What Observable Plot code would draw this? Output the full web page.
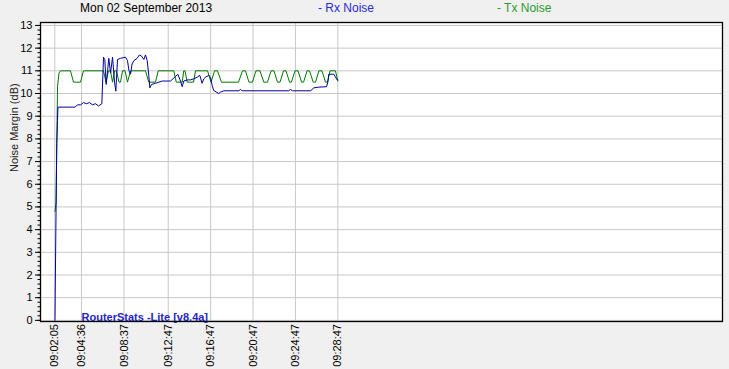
<!DOCTYPE html>
<html><head><meta charset="utf-8">
<script src="https://cdn.jsdelivr.net/npm/d3@7"></script>
<script src="https://cdn.jsdelivr.net/npm/@observablehq/plot@0.6"></script>
<style>
html,body{margin:0;padding:0;background:#f0f0f0;}
#wrap{position:relative;width:729px;height:369px;overflow:hidden;font-family:Arial,"Liberation Sans",sans-serif;}
#wrap svg{position:absolute;left:0;top:0;}
.hdr{position:absolute;top:1px;font-size:12px;line-height:14px;white-space:nowrap;}
</style></head><body>
<div id="wrap"></div>
<script>
const chartTitle = "Mon 02 September 2013";
const seriesNames = ["- Rx Noise", "- Tx Noise"];
const yLabel = "Noise Margin (dB)";
const watermark = "RouterStats -Lite [v8.4a]";
const xTickLabels = ["09:02:05","09:04:36","09:08:37","09:12:47","09:16:47","09:20:47","09:24:47","09:28:47"];
const yTicks = [0,1,2,3,4,5,6,7,8,9,10,11,12,13];

// time in minutes after 09:00:00
const rxTime = [2.10,2.13,2.20,2.27,2.34,2.38,4.01,4.22,4.51,4.79,5.07,5.36,5.64,5.92,6.21,6.52,6.68,6.80,6.93,7.06,7.18,7.34,7.53,7.72,7.84,8.00,8.28,8.75,8.94,9.08,9.23,9.37,9.55,9.84,10.07,10.26,10.48,10.64,10.80,10.95,11.05,11.21,11.58,12.22,12.53,13.00,13.47,13.69,13.94,14.10,14.25,14.57,14.88,15.20,15.52,15.76,15.98,16.14,16.30,16.61,16.77,16.93,17.08,17.55,17.71,18.03,19.44,19.60,19.76,24.13,24.32,24.51,26.21,26.52,26.99,27.72,27.84,27.93,28.40,28.72,28.78];
const rxNoise = [0,1.6,4.8,7.8,8.8,9.4,9.4,9.5,9.5,9.6,9.55,9.6,9.5,9.55,9.45,9.55,11.6,11.5,10.4,11.0,11.55,10.9,11.6,10.5,10.1,11.5,11.55,11.6,11.45,11.0,10.85,11.3,11.45,11.55,11.7,11.65,11.5,11.7,11.45,10.8,10.25,10.4,10.45,10.55,10.55,10.55,10.75,10.85,10.55,10.3,10.55,10.6,10.6,10.65,10.72,10.8,10.45,10.65,10.72,10.8,10.7,10.35,10.13,10.0,10.06,10.12,10.12,10.18,10.12,10.12,10.18,10.12,10.12,10.25,10.28,10.3,10.5,10.85,10.85,10.6,10.6];

const txTime = [2.10,2.20,2.34,2.48,2.62,3.56,3.85,4.51,4.79,6.68,6.91,7.15,7.34,7.53,7.72,7.90,8.14,8.28,8.47,8.71,8.94,9.23,10.64,10.95,11.58,11.84,13.31,13.54,14.10,14.25,14.37,14.57,15.17,15.36,16.49,16.82,17.15,17.43,17.81,19.41,19.79,20.07,20.40,20.73,21.06,21.44,21.80,22.15,22.48,22.76,23.09,23.33,23.66,23.89,24.23,24.41,24.74,25.03,25.36,25.55,25.88,26.11,26.46,26.68,26.99,27.29,27.62,27.81,28.05,28.56,28.78];
const txNoise = [4.8,5.2,10.3,10.9,11,11,10.5,10.5,11,11,10.5,11,11,10.5,11,11,10.5,10.5,11,11,10.5,11,11,10.5,10.5,11,11,10.5,10.5,11,11,10.5,10.5,11,11,10.5,11,11,10.5,10.5,11,11,10.5,10.5,11,11,10.5,10.5,11,11,10.5,10.5,11,11,10.5,10.5,11,11,10.5,10.5,11,11,10.5,10.5,11,11,10.5,10.5,11,11,10.55];

const toMin = s => { const [h,m,sec] = s.split(":").map(Number); return (h-9)*60 + m + sec/60; };
const xTicks = xTickLabels.map(toMin);
const minorTicks = d3.range(0, 13.01, 0.2);

const rx = rxTime.map((t,i) => ({t, v: rxNoise[i]}));
const tx = txTime.map((t,i) => ({t, v: txNoise[i]}));

const rxColor = "#0000a0", txColor = "#007800";

const chart = Plot.plot({
  width: 729, height: 369,
  marginLeft: 40, marginRight: 7, marginTop: 22, marginBottom: 48,
  style: {background: "transparent", fontFamily: "Arial, 'Liberation Sans', sans-serif", fontSize: "11px", color: "#000"},
  x: {type: "linear", domain: [0.734, 65.07]},
  y: {domain: [-0.05, 13.13]},
  marks: [
    Plot.frame({fill: "#fff", stroke: "none"}),
    Plot.gridY(yTicks, {stroke: "#c8c8c8", strokeOpacity: 1}),
    Plot.gridX(xTicks, {stroke: "#c8c8c8", strokeOpacity: 1}),
    Plot.line(tx, {x: "t", y: "v", stroke: txColor, strokeWidth: 1}),
    Plot.line(rx, {x: "t", y: "v", stroke: rxColor, strokeWidth: 1}),
    Plot.text([watermark], {frameAnchor: "bottom-left", dx: 41, dy: -1, textAnchor: "start", lineAnchor: "bottom", fontWeight: "bold", fontSize: 11, fill: "#2424c8"}),
    Plot.frame({stroke: "#000", strokeWidth: 1.3}),
    Plot.axisY(yTicks, {tickSize: 5, tickPadding: 3, label: null, fontSize: 11}),
    Plot.axisY(minorTicks, {tickSize: 2.5, tickFormat: () => "", label: null}),
    Plot.axisX(xTicks, {tickSize: 1, tickPadding: 1.5, tickRotate: -90, label: null, fontSize: 11,
      tickFormat: d => xTickLabels[xTicks.indexOf(d)]}),
    Plot.text([yLabel], {frameAnchor: "left", dx: -26, rotate: -90, fontSize: 11, fill: "#222"})
  ]
});

const wrap = document.getElementById("wrap");
wrap.appendChild(chart);
const hdrs = [
  {text: chartTitle, left: 80, color: "#000"},
  {text: seriesNames[0], left: 318, color: "#2a2ad6"},
  {text: seriesNames[1], left: 497, color: "#2c9a2c"}
];
for (const h of hdrs) {
  const d = document.createElement("div");
  d.className = "hdr";
  d.style.left = h.left + "px";
  d.style.color = h.color;
  d.textContent = h.text;
  wrap.appendChild(d);
}
</script>
</body></html>
